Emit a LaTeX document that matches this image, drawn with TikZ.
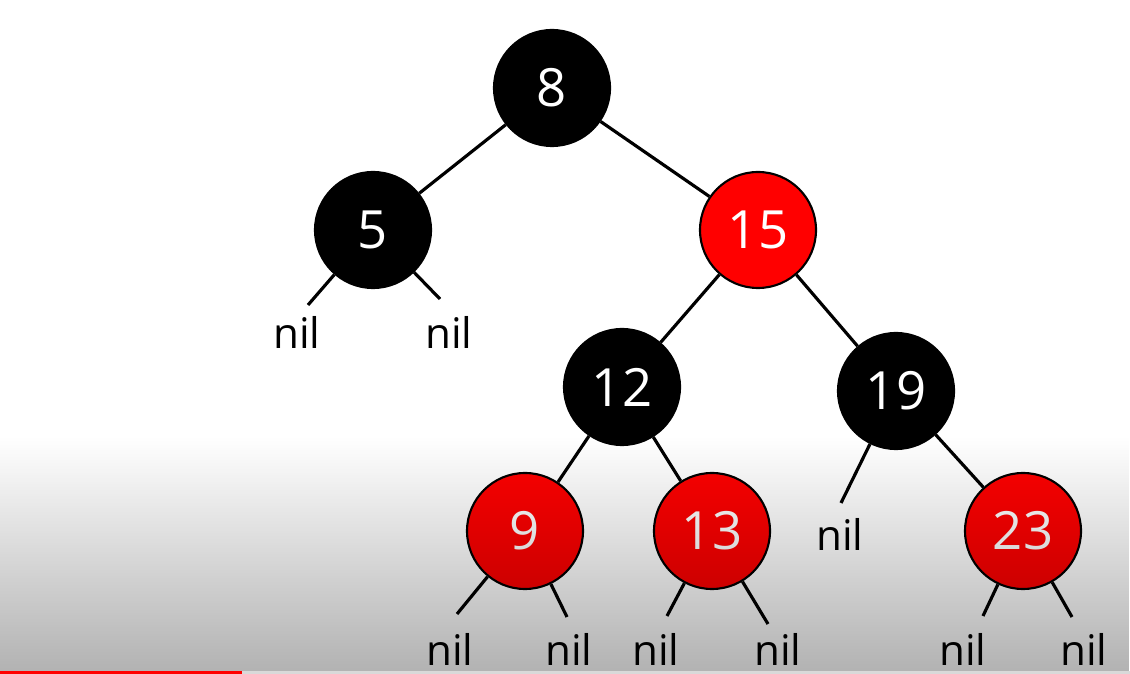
\documentclass[tikz,border=0pt]{standalone}
\usepackage{fontspec}
\setmainfont{Open Sans}
\usetikzlibrary{fadings}

\tikzfading[name=darkdown, top color=transparent!100, bottom color=transparent!0]

\begin{document}
\begin{tikzpicture}
		[
			x=0.2mm, y=-0.2mm,
			bnode/.style = {circle, align=center, draw=black, line width=1.2pt, fill=black, text=white, minimum size=2.32cm, inner sep=0pt, font=\fontsize{30}{30}\selectfont},
			rnode/.style = {bnode, fill=red},
			nilnode/.style = {inner sep=0pt, font=\fontsize{24}{24}\selectfont},
			edge/.style = {line width=1.8pt},
		]

		\useasboundingbox (0,0) rectangle (1130,674);
		\fill[white] (0,0) rectangle (1130,674);

		% tree nodes
		\node[bnode] (n8) 	at (  552,  88 ) {8};
		\node[bnode] (n5) 	at (  373, 230 ) {5};
		\node[rnode] (n15) 	at (  758, 230 ) {15};
		\node[bnode] (n12) 	at (  622, 387 ) {12};
		\node[bnode] (n19) 	at (  896, 391 ) {19};
		\node[rnode] (n9) 	at (  525, 531 ) {9};
		\node[rnode] (n13) 	at (  712, 531 ) {13};
		\node[rnode] (n23) 	at ( 1023, 531 ) {23};

		\foreach \from/\to in {n8/n5,n8/n15,n15/n12,n15/n19,n12/n9,n12/n13,n19/n23}
		\draw[edge] (\from) -- (\to);

		% nil leaves
		\node[nilnode] (l5a) 	at (  297, 332 ) {nil};
		\node[nilnode] (l5b) 	at (  449, 332 ) {nil};
		\node[nilnode] (l19a) 	at (  840, 534 ) {nil};
		\node[nilnode] (l9a) 	at (  450, 649 ) {nil};
		\node[nilnode] (l9b) 	at (  569, 649 ) {nil};
		\node[nilnode] (l13a) 	at (  656, 649 ) {nil};
		\node[nilnode] (l13b) 	at (  778, 649 ) {nil};
		\node[nilnode] (l23a) 	at (  963, 649 ) {nil};
		\node[nilnode] (l23b) 	at ( 1084, 649 ) {nil};

		\coordinate (e5a) 	at (  308, 305 );
		\coordinate (e5b) 	at (  440, 299 );
		\coordinate (e19a) 	at (  841, 503 );
		\coordinate (e9a) 	at (  457, 614 );
		\coordinate (e9b) 	at (  567, 617 );
		\coordinate (e13a) 	at (  667, 616 );
		\coordinate (e13b) 	at (  768, 624 );
		\coordinate (e23a) 	at (  983, 616 );
		\coordinate (e23b) 	at ( 1072, 617 );

		\foreach \from/\to in {n5/e5a,n5/e5b,n19/e19a,n9/e9a,n9/e9b,n13/e13a,n13/e13b,n23/e23a,n23/e23b}
		\draw[edge] (\from) -- (\to);

		% shade at the bottom, progress bar
		\fill[black, opacity=0.3, path fading=darkdown] (0,437) rectangle (1130,671);
		\fill[white!85!black] (242,671) rectangle (1130,674);
		\fill[red] (0,671) rectangle (242,674);

		\end{tikzpicture}
\end{document}
